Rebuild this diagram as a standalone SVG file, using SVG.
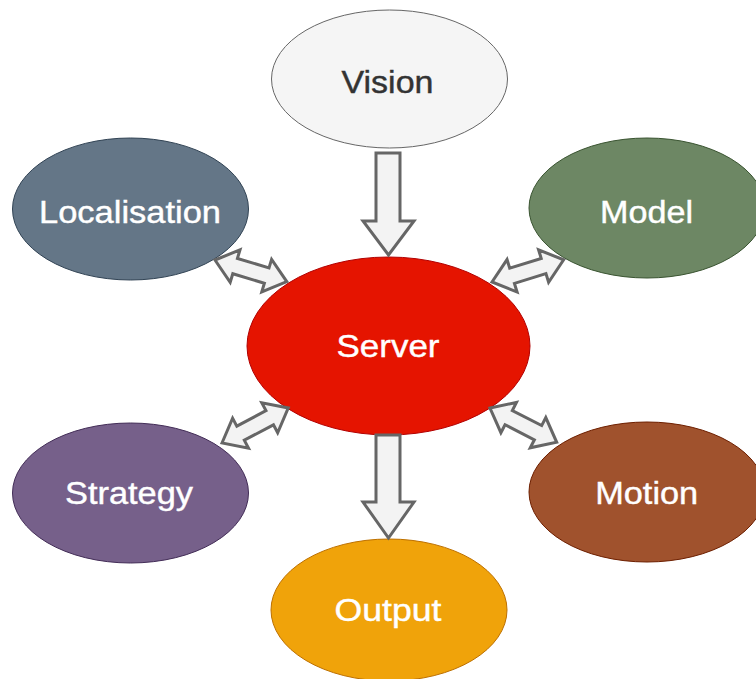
<svg xmlns="http://www.w3.org/2000/svg" width="756" height="679" viewBox="0 0 756 679">
<style>
.lbl{font-family:"Liberation Sans",Arial,Helvetica,sans-serif;font-size:31px;text-anchor:middle;fill:#ffffff;stroke:#ffffff;stroke-width:0.4}
.dark{fill:#333333;stroke:#333333}
.arr{fill:#f3f3f3;stroke:#666666;stroke-width:3;stroke-linejoin:miter}
</style>
<defs>
<path id="dbl" d="M0,0 L21,-17 L21,-8 L54,-8 L54,-17 L75,0 L54,17 L54,8 L21,8 L21,17 Z"/>
</defs>
<rect width="756" height="679" fill="#ffffff"/>
<g id="vision"><ellipse cx="389.5" cy="79" rx="118" ry="69" fill="#f5f5f5" stroke="#666666" stroke-width="1"/><text class="lbl dark" x="387.5" y="93" textLength="92" lengthAdjust="spacingAndGlyphs">Vision</text></g>
<g id="localisation"><ellipse cx="130.5" cy="209" rx="118" ry="71" fill="#647687" stroke="#314354" stroke-width="1"/><text class="lbl" x="130" y="223" textLength="182" lengthAdjust="spacingAndGlyphs">Localisation</text></g>
<g id="model"><ellipse cx="647" cy="208" rx="118" ry="70" fill="#6d8764" stroke="#3a5431" stroke-width="1"/><text class="lbl" x="646.5" y="223" textLength="93" lengthAdjust="spacingAndGlyphs">Model</text></g>
<g id="server"><ellipse cx="388.5" cy="346" rx="141.5" ry="89" fill="#e51400" stroke="#b20000" stroke-width="1"/><text class="lbl" x="388" y="357" textLength="103" lengthAdjust="spacingAndGlyphs">Server</text></g>
<g id="strategy"><ellipse cx="130.5" cy="493" rx="118" ry="70" fill="#76608a" stroke="#432d57" stroke-width="1"/><text class="lbl" x="129" y="504" textLength="128" lengthAdjust="spacingAndGlyphs">Strategy</text></g>
<g id="motion"><ellipse cx="647" cy="492" rx="118" ry="70" fill="#a0522d" stroke="#6d1f00" stroke-width="1"/><text class="lbl" x="646.7" y="504" textLength="103" lengthAdjust="spacingAndGlyphs">Motion</text></g>
<g id="output"><ellipse cx="389" cy="610" rx="118" ry="71" fill="#f0a30a" stroke="#bd7000" stroke-width="1"/><text class="lbl" x="388" y="621" textLength="107" lengthAdjust="spacingAndGlyphs">Output</text></g>
<g id="connectors">
<path class="arr" d="M376,153 L400,153 L400,221 L414,221 L388.5,255 L363,221 L376,221 Z"/>
<path class="arr" d="M376,435 L400,435 L400,502 L414,502 L388.5,538 L363,502 L376,502 Z"/>
<use href="#dbl" class="arr" transform="translate(215,260) rotate(16.8)"/>
<use href="#dbl" class="arr" transform="translate(492,282) rotate(-17.2)"/>
<use href="#dbl" class="arr" transform="translate(222,443) rotate(-27.9)"/>
<use href="#dbl" class="arr" transform="translate(490,408) rotate(27.2)"/>
</g>
</svg>
